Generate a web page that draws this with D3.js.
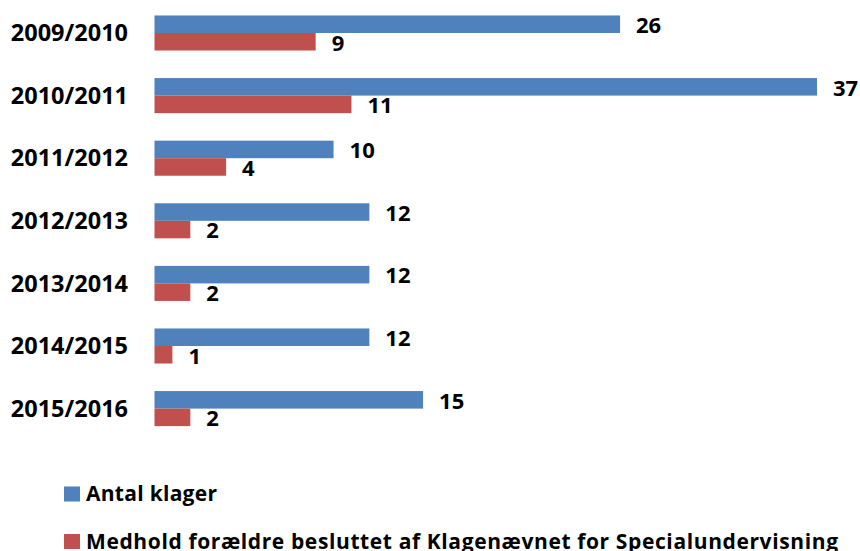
<!DOCTYPE html>
<html>
<head>
<meta charset="utf-8">
<script src="https://cdn.jsdelivr.net/npm/d3@7"></script>
<style>
  body { margin: 0; background: #fff; }
  svg { display: block; font-family: 'Open Sans', sans-serif; font-weight: bold; }
</style>
</head>
<body>
<div id="chart"></div>
<script>
const years = ['2009/2010', '2010/2011', '2011/2012', '2012/2013', '2013/2014', '2014/2015', '2015/2016']
const antalKlager = [26, 37, 10, 12, 12, 12, 15]
const medhold = [9, 11, 4, 2, 2, 1, 2]
const seriesNames = ['Antal klager', 'Medhold forældre besluttet af Klagenævnet for Specialundervisning']
const colors = ['#4F81BD', '#C0504D']

let w = 860
let h = 551
// the original font runs wider than Open Sans, so stretch the legend text to its width
let legendWidths = [131, 752]

let rows = years.map(function (y, i) {
  return { year: y, values: [antalKlager[i], medhold[i]] }
})

let svg = d3.select('#chart').append('svg')
  .attr('width', w)
  .attr('height', h)

let y = d3.scaleBand()
  .domain(years)
  .range([1.7, 439.9])
  .paddingInner(0.44)
  .paddingOuter(0.22)

let ySub = d3.scaleBand()
  .domain([0, 1])
  .range([0, y.bandwidth()])

let x = d3.scaleLinear()
  .domain([0, 37])
  .range([154.5, 817])

// category labels
svg.append('g')
  .selectAll('text')
  .data(years)
  .enter().append('text')
  .attr('x', 128)
  .attr('y', function (d) { return y(d) + y.bandwidth() / 2 })
  .attr('dy', '0.35em')
  .attr('text-anchor', 'end')
  .style('font-size', '23.5px')
  .text(function (d) { return d })

let group = svg.append('g')
  .selectAll('g')
  .data(rows)
  .enter().append('g')
  .attr('transform', function (d) { return 'translate(0,' + y(d.year) + ')' })

group.selectAll('rect')
  .data(function (d) { return d.values })
  .enter().append('rect')
  .attr('x', x(0))
  .attr('y', function (d, i) { return ySub(i) })
  .attr('width', function (d) { return x(d) - x(0) })
  .attr('height', ySub.bandwidth())
  .attr('fill', function (d, i) { return colors[i] })

group.selectAll('text')
  .data(function (d) { return d.values })
  .enter().append('text')
  .attr('x', function (d) { return x(d) + 16 })
  .attr('y', function (d, i) { return ySub(i) + ySub.bandwidth() })
  .style('font-size', '22px')
  .text(function (d) { return d })

// legend
let legend = svg.append('g')
  .selectAll('g')
  .data(seriesNames)
  .enter().append('g')
  .attr('transform', function (d, i) { return 'translate(64,' + (486.5 + i * 47.5) + ')' })

legend.append('rect')
  .attr('width', 16)
  .attr('height', 15)
  .attr('fill', function (d, i) { return colors[i] })

legend.append('text')
  .attr('x', 22)
  .attr('y', 14.5)
  .attr('textLength', function (d, i) { return legendWidths[i] })
  .attr('lengthAdjust', 'spacing')
  .style('font-size', '21px')
  .text(function (d) { return d })
</script>
</body>
</html>
